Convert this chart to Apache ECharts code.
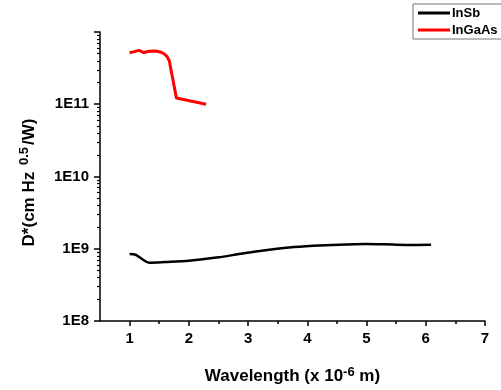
<!DOCTYPE html>
<html>
<head>
<meta charset="utf-8">
<script src="https://cdn.jsdelivr.net/npm/echarts@6/dist/echarts.min.js"></script>
<style>html,body{margin:0;padding:0;background:#fff}#c{width:501px;height:390px}</style>
</head>
<body>
<div id="c"></div>
<script>
// Data
const inSbX = [1.0, 1.1, 1.21, 1.33, 1.6, 2.0, 2.5, 2.85, 3.2, 3.69, 4.1, 4.54, 4.99, 5.3, 5.67, 6.09];
const inSbY = [8.45e8, 8.26e8, 7.21e8, 6.41e8, 6.55e8, 6.83e8, 7.6e8, 8.45e8, 9.3e8, 1.04e9, 1.1e9, 1.14e9, 1.16e9, 1.15e9, 1.13e9, 1.14e9];
const inGaAsX = [1.0, 1.08, 1.16, 1.24, 1.33, 1.44, 1.52, 1.58, 1.63, 1.67, 1.79, 2.29];
const inGaAsY = [5.17e11, 5.35e11, 5.56e11, 5.2e11, 5.4e11, 5.45e11, 5.3e11, 5.0e11, 4.6e11, 4.0e11, 1.22e11, 1.0e11];
const xMajorTicks = [1, 2, 3, 4, 5, 6, 7];
const xMinorTicks = [1.5, 2.5, 3.5, 4.5, 5.5, 6.5];
const yDecades = [8, 9, 10, 11];
const yMinorMultipliers = [2, 3, 4, 5, 6, 7, 8, 9];

const yMinorTicks = [];
yDecades.forEach(d => yMinorMultipliers.forEach(m => yMinorTicks.push(Math.log10(m) + d)));

const zip = (xs, ys) => xs.map((x, i) => [x, ys[i]]);
const font = 'Liberation Sans, Arial, sans-serif';

const chart = echarts.init(document.getElementById('c'), null, {renderer: 'canvas'});
chart.setOption({
  animation: false,
  backgroundColor: '#fff',
  grid: {left: 100, right: 16, top: 32, bottom: 69, containLabel: false},
  legend: {
    orient: 'vertical', left: 413, top: 4,
    padding: [2, 40, 2, 5], itemGap: 3, itemWidth: 32, itemHeight: 3,
    icon: 'rect',
    borderColor: '#777', borderWidth: 1,
    textStyle: {fontFamily: font, fontWeight: 'bold', fontSize: 13, color: '#000', lineHeight: 14, padding: [0, 0, 0, -3]},
    data: ['InSb', 'InGaAs']
  },
  xAxis: [{
    type: 'value', min: 0.5, max: 7, position: 'bottom',
    splitLine: {show: false},
    axisLine: {lineStyle: {color: '#000', width: 1.5}},
    axisTick: {customValues: xMajorTicks, length: 5, lineStyle: {color: '#000', width: 1.5}},
    axisLabel: {customValues: xMajorTicks, margin: 10, color: '#000', fontFamily: font, fontWeight: 'bold', fontSize: 15},
    name: 'Wavelength (x 10{sup|-6} m)', nameLocation: 'middle', nameGap: 45,
    nameTextStyle: {color: '#000', fontFamily: font, fontWeight: 'bold', fontSize: 17,
      rich: {sup: {fontFamily: font, fontWeight: 'bold', fontSize: 13, verticalAlign: 'top', padding: [0, 0, 8, 0], color: '#000'}}}
  }, {
    type: 'value', min: 0.5, max: 7, position: 'bottom', offset: 0,
    splitLine: {show: false}, axisLine: {show: false},
    axisTick: {customValues: xMinorTicks, length: 3, lineStyle: {color: '#000', width: 1.5}},
    axisLabel: {show: false}
  }],
  yAxis: [{
    type: 'log', logBase: 10, min: 1e8, max: 1e12, position: 'left',
    splitLine: {show: false},
    axisLine: {lineStyle: {color: '#000', width: 1.5}},
    axisTick: {length: 6, lineStyle: {color: '#000', width: 1.5}},
    axisLabel: {margin: 11, color: '#000', fontFamily: font, fontWeight: 'bold', fontSize: 15,
      formatter: v => v >= 1e12 ? '' : '1E' + Math.round(Math.log10(v))},
    name: 'D*(cm Hz {sup|0.5}/W)', nameLocation: 'middle', nameRotate: 90, nameGap: 60,
    nameTextStyle: {color: '#000', fontFamily: font, fontWeight: 'bold', fontSize: 17, padding: [0, 12, 0, 0],
      rich: {sup: {fontFamily: font, fontWeight: 'bold', fontSize: 13, verticalAlign: 'top', padding: [0, 2, 9, 2], color: '#000'}}}
  }, {
    type: 'value', min: 8, max: 12, position: 'left', offset: 0,
    splitLine: {show: false}, axisLine: {show: false},
    axisTick: {customValues: yMinorTicks, length: 3, lineStyle: {color: '#000', width: 1.2}},
    axisLabel: {show: false}
  }],
  series: [{
    name: 'InSb', type: 'line', xAxisIndex: 0, yAxisIndex: 0,
    data: zip(inSbX, inSbY), symbol: 'none', smooth: 0.3,
    lineStyle: {color: '#000', width: 2.5}, itemStyle: {color: '#000'}
  }, {
    name: 'InGaAs', type: 'line', xAxisIndex: 0, yAxisIndex: 0,
    data: zip(inGaAsX, inGaAsY), symbol: 'none', smooth: false,
    lineStyle: {color: '#ff0000', width: 3, join: 'round'}, itemStyle: {color: '#ff0000'}
  }]
});
</script>
</body>
</html>
